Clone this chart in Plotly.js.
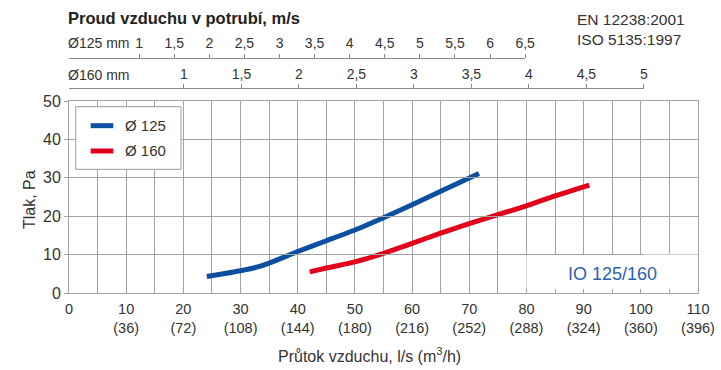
<!DOCTYPE html>
<html><head><meta charset="utf-8">
<script src="https://cdn.plot.ly/plotly-3.0.1.min.js"></script>
<style>html,body{margin:0;padding:0;background:#fff}</style>
</head><body><div id="chart" style="width:721px;height:370px"></div>
<script>
// ---- data ----
const flow125 = [24.1, 27, 30, 33, 35, 40, 45, 50, 55, 60, 65, 71.7];
const pres125 = [4.3, 5.0, 5.8, 6.8, 7.8, 10.8, 13.6, 16.4, 19.6, 23.0, 26.5, 31.1];
const flow160 = [42.1, 45, 50, 55, 60, 65, 70, 75, 80, 85, 91];
const pres160 = [5.5, 6.5, 8.1, 10.3, 12.9, 15.6, 18.1, 20.4, 22.7, 25.3, 28.1];
const flowTicks = [0, 10, 20, 30, 40, 50, 60, 70, 80, 90, 100, 110];
const m3hLabels = ["", "36", "72", "108", "144", "180", "216", "252", "288", "324", "360", "396"];
const vel125Ticks = [1, 1.5, 2, 2.5, 3, 3.5, 4, 4.5, 5, 5.5, 6, 6.5];
const vel160Ticks = [1, 1.5, 2, 2.5, 3, 3.5, 4, 4.5, 5];
const yTicks = [0, 10, 20, 30, 40, 50];
const seriesNames = ["Ø 125", "Ø 160"];

// ---- styling ----
const FONT = '"Liberation Sans", Arial, sans-serif';
const TXT = '#333333';
const GRID = '#a3a3a3';
const BLUE = '#0b4f9e';
const RED = '#e3001b';
const COLORS = [BLUE, RED];
const XMAX = 110;

// duct velocity axis: flow (l/s) = v * area * 1000
const area = d => Math.PI * Math.pow(d / 2000, 2) * 1000;
const end125 = vel125Ticks[vel125Ticks.length - 1];
const end160 = vel160Ticks[vel160Ticks.length - 1];
const dom125 = end125 * area(125) / XMAX;
const dom160 = end160 * area(160) / XMAX;
const comma = v => String(v).replace('.', ',');

const xTickText = flowTicks.map((v, i) => i === 0 ? String(v) : v + '<br>(' + m3hLabels[i] + ')');

const traces = [
  {x: flow125, y: pres125, name: seriesNames[0], mode: 'lines', line: {color: BLUE, width: 5, shape: 'spline', smoothing: 0.5}, hoverinfo: 'skip', showlegend: false},
  {x: flow160, y: pres160, name: seriesNames[1], mode: 'lines', line: {color: RED, width: 5, shape: 'spline', smoothing: 0.5}, hoverinfo: 'skip', showlegend: false},
  {x: [null], y: [null], xaxis: 'x2', yaxis: 'y', showlegend: false, mode: 'lines', hoverinfo: 'skip'},
  {x: [null], y: [null], xaxis: 'x3', yaxis: 'y', showlegend: false, mode: 'lines', hoverinfo: 'skip'}
];

const topAxis = (pos, dom, rng, ticks) => ({
  anchor: 'free', position: pos, side: 'top', domain: [0, dom], range: [0, rng],
  tickmode: 'array', tickvals: ticks, ticktext: ticks.map(comma),
  ticks: 'outside', ticklen: 4, tickcolor: '#8a8a8a', showline: true, linecolor: '#8a8a8a', linewidth: 1,
  showgrid: false, zeroline: false, tickfont: {size: 14, color: TXT}, fixedrange: true
});

// legend box (paper coords)
const LG = {x0: 0.0107, x1: 0.1781, y0: 0.4371, y1: 0.6583, sx0: 0.0345, sx1: 0.0704, tx: 0.0854, ys: [0.5912, 0.5018]};

const shapes = [
  {type: 'rect', xref: 'x', yref: 'y', x0: 80, x1: 110, y0: 0, y1: 10, fillcolor: '#ffffff', line: {width: 0}, layer: 'between'},
  {type: 'rect', xref: 'paper', yref: 'paper', x0: LG.x0, x1: LG.x1, y0: LG.y0, y1: LG.y1, fillcolor: '#ffffff', line: {color: '#9a9a9a', width: 1}, layer: 'above'}
];
seriesNames.forEach((n, i) => shapes.push({type: 'line', xref: 'paper', yref: 'paper', x0: LG.sx0, x1: LG.sx1, y0: LG.ys[i], y1: LG.ys[i], line: {color: COLORS[i], width: 5}, layer: 'above'}));

const annotations = [
  {text: '<b>Proud vzduchu v potrubí, m/s</b>', xref: 'paper', yref: 'paper', x: -0.004, y: 0.970, xanchor: 'left', yanchor: 'middle', showarrow: false, font: {size: 16.5, color: '#222'}},
  {text: 'Ø125 mm', xref: 'paper', yref: 'paper', x: -0.004, y: 0.8834, xanchor: 'left', yanchor: 'middle', showarrow: false, font: {size: 14, color: TXT}},
  {text: 'Ø160 mm', xref: 'paper', yref: 'paper', x: -0.004, y: 0.770, xanchor: 'left', yanchor: 'middle', showarrow: false, font: {size: 14, color: TXT}},
  {text: 'EN 12238:2001', xref: 'paper', yref: 'paper', x: 0.804, y: 0.968, xanchor: 'left', yanchor: 'middle', showarrow: false, font: {size: 15.5, color: TXT}},
  {text: 'ISO 5135:1997', xref: 'paper', yref: 'paper', x: 0.804, y: 0.8975, xanchor: 'left', yanchor: 'middle', showarrow: false, font: {size: 15.5, color: TXT}},
  {text: 'Tlak, Pa', xref: 'paper', yref: 'paper', x: -0.0636, y: 0.332, xanchor: 'center', yanchor: 'middle', textangle: -90, showarrow: false, font: {size: 16, color: TXT}},
  {text: 'Průtok vzduchu, l/s (m<sup>3</sup>/h)', xref: 'paper', yref: 'paper', x: 0.4785, y: -0.218, xanchor: 'center', yanchor: 'middle', showarrow: false, font: {size: 16, color: TXT}},
  {text: 'IO 125/160', xref: 'x', yref: 'y', x: 95, y: 5, xanchor: 'center', yanchor: 'middle', showarrow: false, font: {size: 18, color: '#2a63b0'}}
];
seriesNames.forEach((n, i) => annotations.push({text: n, xref: 'paper', yref: 'paper', x: LG.tx, y: LG.ys[i], xanchor: 'left', yanchor: 'middle', showarrow: false, font: {size: 15, color: TXT}}));

const layout = {
  width: 721, height: 370,
  margin: {l: 69, r: 23, t: 10, b: 77},
  paper_bgcolor: '#fff', plot_bgcolor: 'rgba(0,0,0,0)',
  font: {family: FONT, size: 15, color: TXT},
  showlegend: false,
  xaxis: {
    range: [0, XMAX], domain: [0, 1], anchor: 'y',
    tickmode: 'array', tickvals: flowTicks, ticktext: xTickText,
    ticks: 'inside', ticklen: 4, tickcolor: GRID, ticklabelstandoff: 3,
    showgrid: true, gridcolor: GRID, gridwidth: 1,
    showline: true, linecolor: GRID, mirror: true, zeroline: false,
    minor: {tickmode: 'linear', tick0: 0, dtick: 5, ticks: 'inside', ticklen: 4, tickcolor: GRID, showgrid: true, gridcolor: GRID},
    tickfont: {size: 14.5, color: TXT}, fixedrange: true
  },
  yaxis: {
    range: [0, 50], domain: [0, 0.6784], anchor: 'x',
    tickmode: 'array', tickvals: yTicks,
    ticks: 'outside', ticklen: 4, tickcolor: GRID,
    showgrid: true, gridcolor: GRID, gridwidth: 1,
    showline: true, linecolor: GRID, mirror: true, zeroline: false,
    tickfont: {size: 16, color: TXT}, fixedrange: true
  },
  xaxis2: topAxis(0.8314, dom125, end125, vel125Ticks),
  xaxis3: topAxis(0.7233, dom160, end160, vel160Ticks),
  shapes: shapes,
  annotations: annotations
};

Plotly.newPlot('chart', traces, layout, {staticPlot: true, displayModeBar: false});
</script></body></html>
